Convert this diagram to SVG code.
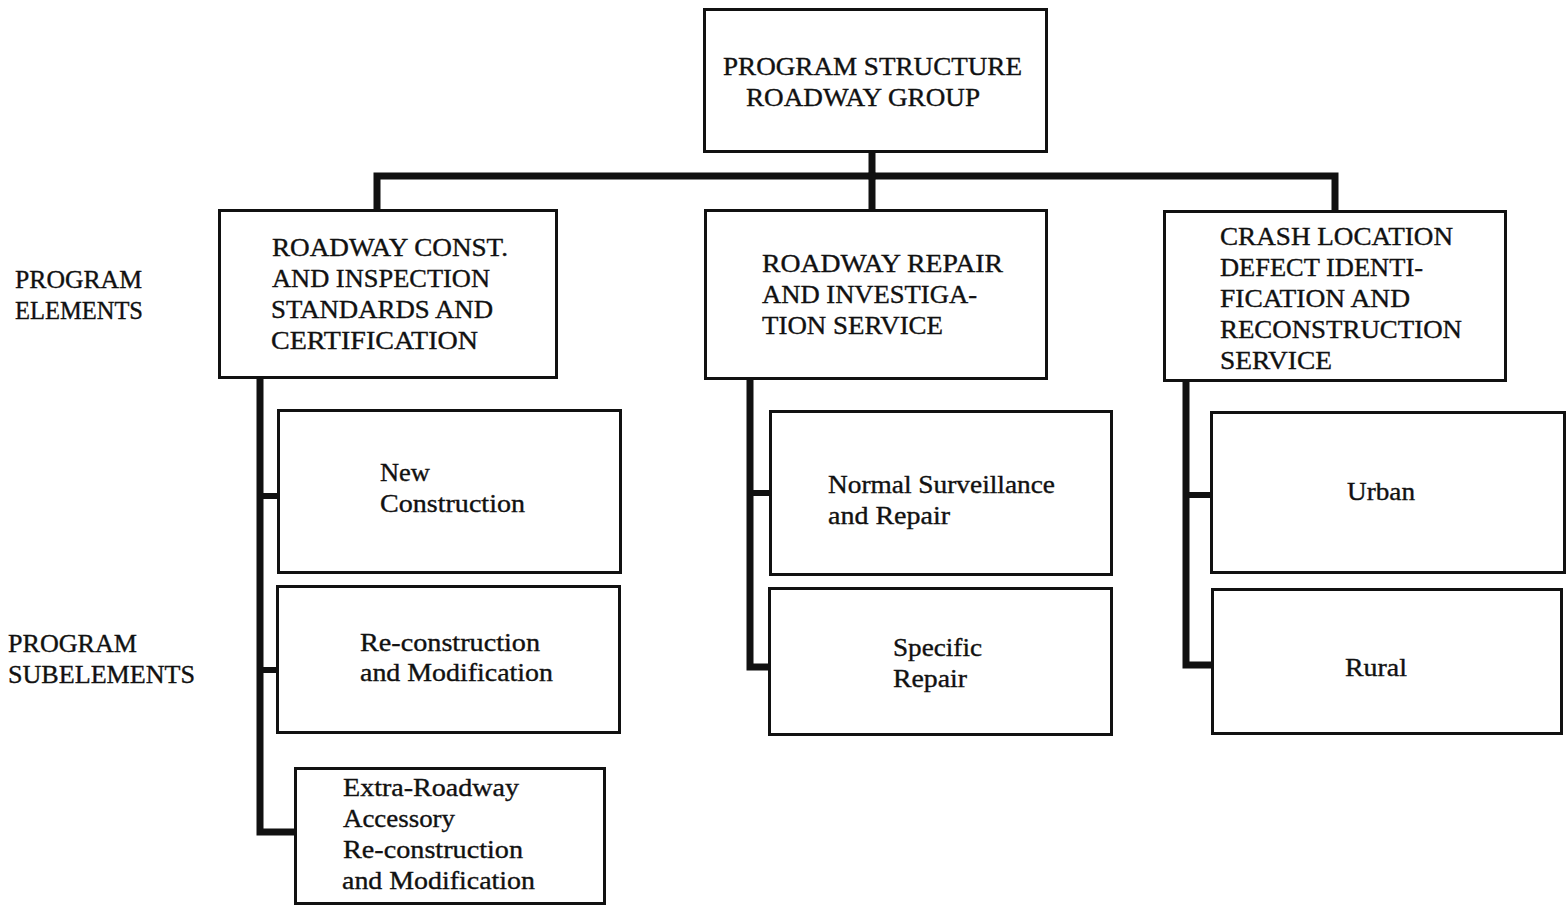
<svg xmlns="http://www.w3.org/2000/svg" width="1567" height="910" viewBox="0 0 1567 910">
  <style>
    .box { fill: #ffffff; stroke: #111111; stroke-width: 3; }
    .wire { fill: none; stroke: #111111; stroke-width: 7; stroke-linejoin: miter; stroke-linecap: square; }
    .twig { fill: none; stroke: #111111; stroke-width: 6; stroke-linejoin: miter; stroke-linecap: butt; }
    text { font-family: "Liberation Serif", "Times New Roman", serif; font-size: 25px; fill: #111111; stroke: #111111; stroke-width: 0.35; }
  </style>
  <rect x="0" y="0" width="1567" height="910" fill="#ffffff"/>

  <!-- side captions -->
  <g id="label-elements">
    <text x="15" y="288" textLength="127" lengthAdjust="spacingAndGlyphs">PROGRAM</text>
    <text x="15" y="319" textLength="128" lengthAdjust="spacingAndGlyphs">ELEMENTS</text>
  </g>
  <g id="label-subelements">
    <text x="8" y="652" textLength="129" lengthAdjust="spacingAndGlyphs">PROGRAM</text>
    <text x="8" y="683" textLength="187" lengthAdjust="spacingAndGlyphs">SUBELEMENTS</text>
  </g>

  <!-- tree connectors -->
  <g id="connectors">
    <path class="wire" d="M872 153 V176"/>
    <path class="wire" d="M377 209 V176 H1335 V210"/>
    <path class="wire" d="M872 176 V209"/>
    <!-- left column spine -->
    <path class="wire" d="M260 379 V832 H294"/>
    <path class="twig" d="M260 496 H278"/>
    <path class="twig" d="M260 670 H277"/>
    <!-- middle column spine -->
    <path class="wire" d="M750 380 V667 H769"/>
    <path class="twig" d="M750 493 H770"/>
    <!-- right column spine -->
    <path class="wire" d="M1186 382 V665 H1211"/>
    <path class="twig" d="M1186 495 H1211"/>
  </g>

  <!-- root -->
  <g id="root">
    <rect class="box" x="704.5" y="9.5" width="342" height="142"/>
    <text x="723" y="75" textLength="299" lengthAdjust="spacingAndGlyphs">PROGRAM STRUCTURE</text>
    <text x="746" y="106" textLength="234" lengthAdjust="spacingAndGlyphs">ROADWAY GROUP</text>
  </g>

  <!-- program elements -->
  <g id="element-construction">
    <rect class="box" x="219.5" y="210.5" width="337" height="167"/>
    <text x="272" y="256" textLength="236" lengthAdjust="spacingAndGlyphs">ROADWAY CONST.</text>
    <text x="272" y="287" textLength="218" lengthAdjust="spacingAndGlyphs">AND INSPECTION</text>
    <text x="271" y="318" textLength="222" lengthAdjust="spacingAndGlyphs">STANDARDS AND</text>
    <text x="271" y="349" textLength="207" lengthAdjust="spacingAndGlyphs">CERTIFICATION</text>
  </g>
  <g id="element-repair">
    <rect class="box" x="705.5" y="210.5" width="341" height="168"/>
    <text x="762" y="272" textLength="241" lengthAdjust="spacingAndGlyphs">ROADWAY REPAIR</text>
    <text x="762" y="303" textLength="215" lengthAdjust="spacingAndGlyphs">AND INVESTIGA-</text>
    <text x="762" y="334" textLength="181" lengthAdjust="spacingAndGlyphs">TION SERVICE</text>
  </g>
  <g id="element-crash">
    <rect class="box" x="1164.5" y="211.5" width="341" height="169"/>
    <text x="1220" y="245" textLength="233" lengthAdjust="spacingAndGlyphs">CRASH LOCATION</text>
    <text x="1220" y="276" textLength="203" lengthAdjust="spacingAndGlyphs">DEFECT IDENTI-</text>
    <text x="1220" y="307" textLength="190" lengthAdjust="spacingAndGlyphs">FICATION AND</text>
    <text x="1220" y="338" textLength="242" lengthAdjust="spacingAndGlyphs">RECONSTRUCTION</text>
    <text x="1220" y="369" textLength="112" lengthAdjust="spacingAndGlyphs">SERVICE</text>
  </g>

  <!-- program subelements -->
  <g id="sub-new-construction">
    <rect class="box" x="278.5" y="410.5" width="342" height="162"/>
    <text x="380" y="481" textLength="50" lengthAdjust="spacingAndGlyphs">New</text>
    <text x="380" y="512" textLength="145" lengthAdjust="spacingAndGlyphs">Construction</text>
  </g>
  <g id="sub-reconstruction">
    <rect class="box" x="277.5" y="586.5" width="342" height="146"/>
    <text x="360" y="651" textLength="180" lengthAdjust="spacingAndGlyphs">Re-construction</text>
    <text x="360" y="681" textLength="193" lengthAdjust="spacingAndGlyphs">and Modification</text>
  </g>
  <g id="sub-extra-roadway">
    <rect class="box" x="295.5" y="768.5" width="309" height="135"/>
    <text x="343" y="796" textLength="176" lengthAdjust="spacingAndGlyphs">Extra-Roadway</text>
    <text x="343" y="827" textLength="112" lengthAdjust="spacingAndGlyphs">Accessory</text>
    <text x="343" y="858" textLength="180" lengthAdjust="spacingAndGlyphs">Re-construction</text>
    <text x="342" y="889" textLength="193" lengthAdjust="spacingAndGlyphs">and Modification</text>
  </g>
  <g id="sub-normal-surveillance">
    <rect class="box" x="770.5" y="411.5" width="341" height="163"/>
    <text x="828" y="493" textLength="227" lengthAdjust="spacingAndGlyphs">Normal Surveillance</text>
    <text x="828" y="524" textLength="122" lengthAdjust="spacingAndGlyphs">and Repair</text>
  </g>
  <g id="sub-specific-repair">
    <rect class="box" x="769.5" y="588.5" width="342" height="146"/>
    <text x="893" y="656" textLength="89" lengthAdjust="spacingAndGlyphs">Specific</text>
    <text x="893" y="687" textLength="74" lengthAdjust="spacingAndGlyphs">Repair</text>
  </g>
  <g id="sub-urban">
    <rect class="box" x="1211.5" y="412.5" width="353" height="160"/>
    <text x="1347" y="500" textLength="68" lengthAdjust="spacingAndGlyphs">Urban</text>
  </g>
  <g id="sub-rural">
    <rect class="box" x="1212.5" y="589.5" width="349" height="144"/>
    <text x="1345" y="676" textLength="62" lengthAdjust="spacingAndGlyphs">Rural</text>
  </g>
</svg>
